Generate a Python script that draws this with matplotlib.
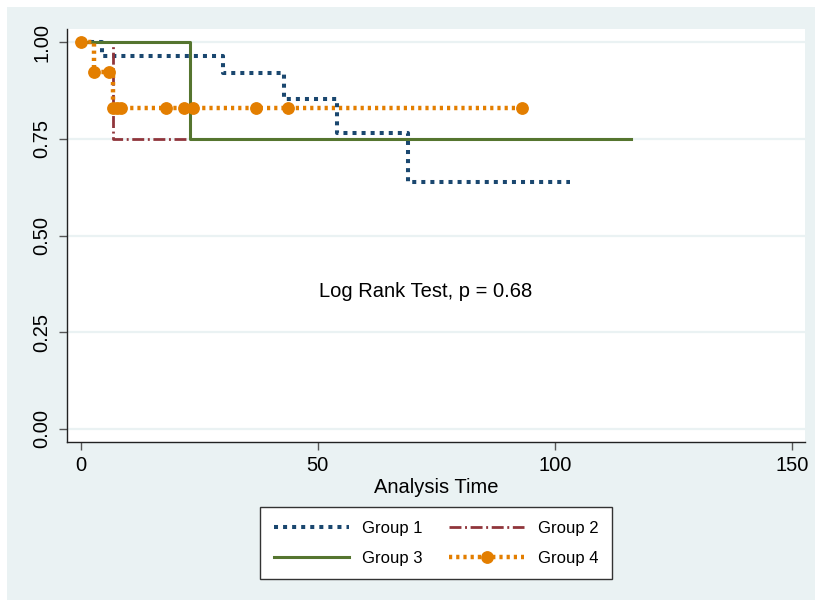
import matplotlib
matplotlib.use("Agg")
import matplotlib.pyplot as plt
from matplotlib.lines import Line2D
from matplotlib.patches import Rectangle

plt.rcParams['font.family'] = ['Liberation Sans', 'DejaVu Sans']

# ---- data ----
g1_time = [0, 4.4, 29.9, 42.8, 54.0, 69.0]
g1_surv = [1.0, 0.964, 0.919, 0.853, 0.766, 0.638]
g1_end = 103.2

g2_time = [0, 6.9]
g2_surv = [1.0, 0.75]
g2_end = 22.6

g3_time = [0, 23.0]
g3_surv = [1.0, 0.75]
g3_end = 116.0

g4_time = [0, 2.7, 6.9]
g4_surv = [1.0, 0.923, 0.83]
g4_end = 93.0
g4_mark_t = [0, 2.8, 6.0, 6.9, 7.6, 8.6, 17.9, 21.8, 23.7, 36.9, 43.8, 93.0]
g4_mark_s = [1.0, 0.923, 0.923, 0.83, 0.83, 0.83, 0.83, 0.83, 0.83, 0.83, 0.83, 0.83]

labels = ['Group 1', 'Group 2', 'Group 3', 'Group 4']
annot = 'Log Rank Test, p = 0.68'
yticks = [0.0, 0.25, 0.5, 0.75, 1.0]
ytick_labels = ['0.00', '0.25', '0.50', '0.75', '1.00']
xticks = [0, 50, 100, 150]
xlabel = 'Analysis Time'

# ---- styles ----
NAVY = '#1A476F'
MAROON = '#90353B'
GREEN = '#55752F'
ORANGE = '#E37E00'
BG = '#EAF2F3'

W, H = 815, 600
fig = plt.figure(figsize=(W / 100, H / 100), dpi=100)
fig.patch.set_facecolor('white')
fig.add_artist(Rectangle((7 / W, 0), 1 - 7 / W, 1 - 7 / H, transform=fig.transFigure,
                         facecolor=BG, edgecolor='none', zorder=-10))

ax = fig.add_axes([67 / W, 1 - 442 / H, (805 - 67) / W, (442 - 29) / H])
ax.set_facecolor('white')

def stairs(t, s, end):
    return list(t) + [end], list(s) + [s[-1]]

x1, y1 = stairs(g1_time, g1_surv, g1_end)
x2, y2 = stairs(g2_time, g2_surv, g2_end)
x3, y3 = stairs(g3_time, g3_surv, g3_end)
x4, y4 = stairs(g4_time, g4_surv, g4_end)

s1 = dict(color=NAVY, lw=2.9, linestyle=(0, (1.0, 1.25)))
s2 = dict(color=MAROON, lw=2.0, linestyle=(0, (4.3, 1.3, 0.7, 1.3)))
s3 = dict(color=GREEN, lw=2.2, linestyle='-')
s4 = dict(color=ORANGE, lw=3.2, linestyle=(0, (0.72, 0.9)))

ax.step(x1, y1, where='post', zorder=3, **s1)
ax.step(x2, y2, where='post', zorder=3, **s2)
ax.step(x3, y3, where='post', zorder=3, **s3)
ax.step(x4, y4, where='post', zorder=4, **s4)
ax.plot(g4_mark_t, g4_mark_s, linestyle='none', marker='o', ms=8.2,
        color=ORANGE, mec=ORANGE, zorder=5)

ax.text(72.8, 0.342, annot, ha='center', va='baseline', fontsize=14.5)

ax.set_xlim(-2.89, 152.7)
ax.set_ylim(-0.0336, 1.0336)
ax.set_xticks(xticks)
ax.set_yticks(yticks)
ax.set_yticklabels(ytick_labels, rotation=90, va='center')
ax.tick_params(axis='both', length=6, width=1, color='#555555', labelsize=14.5,
               labelcolor='black')
ax.tick_params(axis='y', pad=5)
ax.tick_params(axis='x', pad=4)
ax.grid(axis='y', color=BG, lw=1.6, zorder=0)
ax.set_axisbelow(True)
for sp in ['top', 'right']:
    ax.spines[sp].set_visible(False)
for sp in ['left', 'bottom']:
    ax.spines[sp].set_color('#222222')
    ax.spines[sp].set_linewidth(1.0)
ax.set_xlabel(xlabel, fontsize=14.5, labelpad=2)

handles = [
    Line2D([], [], **s1),
    Line2D([], [], **s2),
    Line2D([], [], **s3),
    Line2D([], [], marker='o', ms=8.2, **s4),
]
order = [0, 2, 1, 3]  # row-wise: Group 1, Group 2 / Group 3, Group 4
leg = fig.legend([handles[i] for i in order], [labels[i] for i in order], ncol=2,
                 loc='center', bbox_to_anchor=(436 / W, 1 - 543 / H),
                 fontsize=12, frameon=True, fancybox=False, framealpha=1,
                 edgecolor='#333333', handlelength=4.5, handletextpad=0.8,
                 columnspacing=1.6, borderpad=0.8, labelspacing=0.9, numpoints=1)
leg.get_frame().set_linewidth(1.0)

fig.savefig('out.png', dpi=100)
